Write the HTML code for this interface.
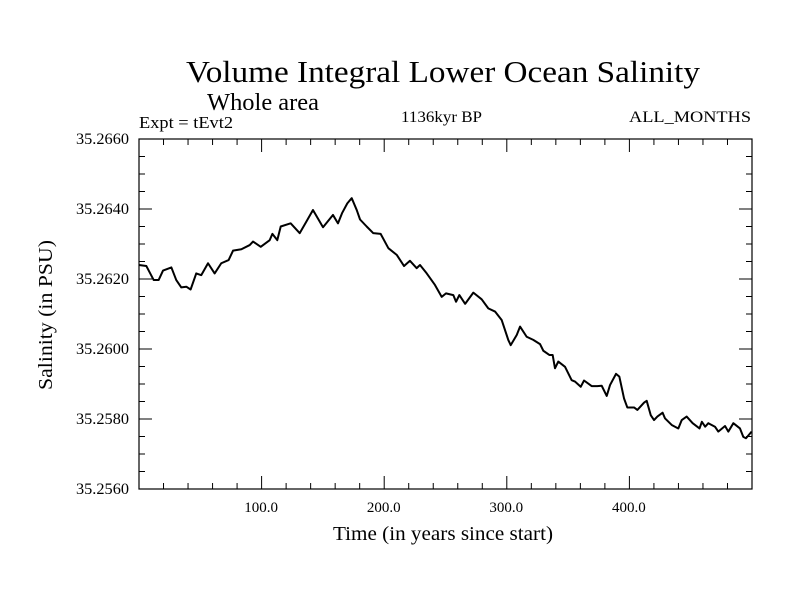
<!DOCTYPE html>
<html><head><meta charset="utf-8"><style>
html,body{margin:0;padding:0;background:#fff;}
svg text{font-family:"Liberation Serif",serif;fill:#000;}
</style></head><body>
<svg id="chart" width="800" height="600" viewBox="0 0 800 600" xmlns="http://www.w3.org/2000/svg">
<text x="186" y="82" font-size="31" textLength="514" lengthAdjust="spacingAndGlyphs">Volume Integral Lower Ocean Salinity</text>
<text x="207" y="110" font-size="24" textLength="112" lengthAdjust="spacingAndGlyphs">Whole area</text>
<text x="139" y="128" font-size="17" textLength="94" lengthAdjust="spacingAndGlyphs">Expt = tEvt2</text>
<text x="401" y="122" font-size="16" textLength="81" lengthAdjust="spacingAndGlyphs">1136kyr BP</text>
<text x="629" y="122" font-size="16" textLength="122" lengthAdjust="spacingAndGlyphs">ALL_MONTHS</text>
<text x="333" y="540" font-size="20" textLength="220" lengthAdjust="spacingAndGlyphs">Time (in years since start)</text>
<text x="0" y="0" font-size="20" textLength="150" lengthAdjust="spacingAndGlyphs" transform="translate(52,390) rotate(-90)">Salinity (in PSU)</text>
<g id="axes"></g>
<g id="series"></g>
</svg>
<script>
const years=[0,6,12,16,19.6,26.4,30.4,34.5,38.6,42.1,46.7,50.8,56.3,61.7,67.1,73.1,76.7,83.5,90.3,93,99.3,106.6,108.8,112.8,115.6,123.7,131.1,136.5,141.9,150.1,158.2,162.3,165.6,169.9,173.5,177.6,180.3,185.7,191.1,197.1,203.4,210.2,216.2,221,226.5,229.2,234.7,241.4,246.9,250.4,256.4,258.6,261.3,266,272.7,279.5,284.9,290.4,295.8,301.2,303.2,308.1,310.8,316.2,321.6,327.1,329.8,334.7,337.4,339.3,342,347.5,352.9,355.6,360.3,363,369.2,373.8,377.4,381.5,384.2,389.1,391.8,395.6,398.3,403.8,406.5,412,414.1,417.4,420.1,422.8,427.1,429,434.5,439.9,442.7,446.7,451.6,457.2,459.1,461.8,464.4,469.8,472.5,478,480.7,484.8,490.2,492.9,495.1,499.7];
const salinity=[35.26240,35.26237,35.26197,35.26197,35.26224,35.26233,35.26197,35.26176,35.26178,35.26170,35.26216,35.26211,35.26245,35.26216,35.26245,35.26254,35.26281,35.26285,35.26297,35.26307,35.26292,35.26311,35.26329,35.26311,35.26350,35.26359,35.26331,35.26364,35.26397,35.26348,35.26383,35.26359,35.26388,35.26416,35.26431,35.26397,35.26370,35.26350,35.26331,35.26329,35.26288,35.26269,35.26237,35.26252,35.26231,35.26240,35.26216,35.26183,35.26149,35.26159,35.26154,35.26135,35.26154,35.26129,35.26161,35.26142,35.26116,35.26107,35.26083,35.26026,35.26011,35.26040,35.26064,35.26035,35.26026,35.26014,35.25995,35.25983,35.25983,35.25945,35.25964,35.25949,35.25911,35.25907,35.25892,35.25910,35.25894,35.25894,35.25895,35.25866,35.25897,35.25929,35.25921,35.25859,35.25833,35.25833,35.25826,35.25847,35.25852,35.25811,35.25797,35.25807,35.25818,35.25802,35.25783,35.25773,35.25797,35.25807,35.25788,35.25773,35.25792,35.25778,35.25788,35.25778,35.25764,35.25780,35.25764,35.25788,35.25773,35.25749,35.25745,35.25764];
const yTickValues=[35.2560,35.2580,35.2600,35.2620,35.2640,35.2660];
const yTickLabels=["35.2560","35.2580","35.2600","35.2620","35.2640","35.2660"];
const xTickValues=[100,200,300,400];
const xTickLabels=["100.0","200.0","300.0","400.0"];

const L=139,R=752,T=139,B=489;
const X0=0,X1=500,Y0=35.2560,Y1=35.2660;
function xs(v){return L+(v-X0)/(X1-X0)*(R-L);}
function ys(v){return B-(v-Y0)/(Y1-Y0)*(B-T);}
const NS="http://www.w3.org/2000/svg";
const axes=document.getElementById('axes');
function mk(tag,attrs,parent){const e=document.createElementNS(NS,tag);for(const k in attrs)e.setAttribute(k,attrs[k]);parent.appendChild(e);return e;}

const frame=mk('rect',{x:L,y:T,width:R-L,height:B-T,fill:'none',stroke:'#000','stroke-width':1.2},axes);



for(let v=20;v<X1;v+=20){
  const major=(v%100===0);const len=major?13:6;const x=xs(v);
  const t1=mk('line',{x1:x,y1:B,x2:x,y2:B-len,stroke:'#000','stroke-width':1},axes);
  
  
  const t2=mk('line',{x1:x,y1:T,x2:x,y2:T+len,stroke:'#000','stroke-width':1},axes);
  
  
}
xTickValues.forEach((v,i)=>{
  const t=mk('text',{x:xs(v)-0.5,y:512,'font-size':15,'text-anchor':'middle'},axes);
  t.textContent=xTickLabels[i];
  
  
});
for(let k=1;k<20;k++){
  const v=Y0+k*0.0005;const major=(k%4===0);const len=major?13:6;const y=ys(v);
  const t1=mk('line',{x1:L,y1:y,x2:L+len,y2:y,stroke:'#000','stroke-width':1},axes);
  
  
  const t2=mk('line',{x1:R,y1:y,x2:R-len,y2:y,stroke:'#000','stroke-width':1},axes);
  
  
}
yTickValues.forEach((v,i)=>{
  const t=mk('text',{x:76,y:ys(v)+5,'font-size':16,textLength:53,lengthAdjust:'spacingAndGlyphs'},axes);
  t.textContent=yTickLabels[i];
  
  
});
const d=years.map((v,i)=>(i?'L':'M')+xs(v).toFixed(2)+' '+ys(salinity[i]).toFixed(2)).join(' ');
const line=mk('path',{d:d,fill:'none',stroke:'#000','stroke-width':2,'stroke-linejoin':'round'},document.getElementById('series'));


</script>
</body></html>
